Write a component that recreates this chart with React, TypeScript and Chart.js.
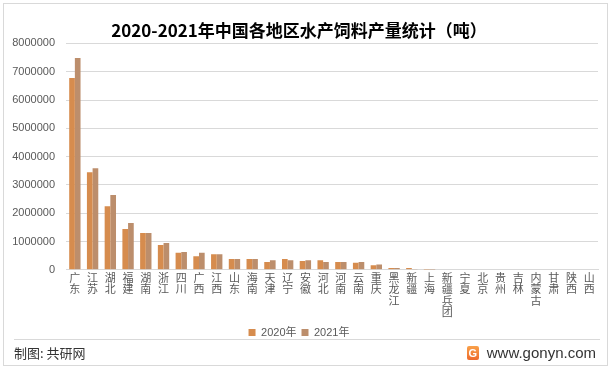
import React, { useEffect, useRef } from "react";
import { Chart, registerables } from "chart.js";

Chart.register(...registerables);

const categories = ["广东","江苏","湖北","福建","湖南","浙江","四川","广西","江西","山东","海南","天津","辽宁","安徽","河北","河南","云南","重庆","黑龙江","新疆","上海","新疆兵团","宁夏","北京","贵州","吉林","内蒙古","甘肃","陕西","山西"];
const values2020 = [6780000,3450000,2250000,1440000,1300000,880000,600000,480000,550000,380000,380000,280000,380000,310000,340000,280000,250000,160000,60000,60000,5000,0,0,0,0,0,0,0,0,0];
const values2021 = [7480000,3590000,2640000,1650000,1300000,950000,630000,600000,550000,380000,380000,340000,340000,340000,280000,280000,280000,190000,60000,30000,5000,0,0,0,0,0,0,0,0,0];
const seriesNames = ["2020年", "2021年"];
const yMax = 8000000;
const yStep = 1000000;
const title = "2020-2021年中国各地区水产饲料产量统计（吨）";

const FONT = '"Liberation Sans", "Noto Sans CJK SC", sans-serif';

export default function App() {
  const ref = useRef<HTMLCanvasElement>(null);
  useEffect(() => {
    document.body.style.margin = "0";
    const chart = new Chart(ref.current!, {
      type: "bar",
      data: {
        labels: categories.map((c) => c.split("")),
        datasets: [
          { label: seriesNames[0], data: values2020, backgroundColor: "#D68C4E", categoryPercentage: 0.64, barPercentage: 1 },
          { label: seriesNames[1], data: values2021, backgroundColor: "#BC8E6C", categoryPercentage: 0.64, barPercentage: 1 },
        ],
      },
      options: {
        animation: false,
        responsive: false,
        maintainAspectRatio: false,
        layout: { padding: { top: 20, right: 15, left: 0, bottom: 0 } },
        plugins: {
          title: {
            display: true,
            text: title,
            color: "#000",
            font: { family: '"Noto Sans CJK SC", sans-serif', size: 17, weight: "bold" },
            padding: { top: 0, bottom: 3 },
          },
          legend: {
            position: "bottom",
            labels: {
              boxWidth: 7,
              boxHeight: 7,
              padding: 5,
              color: "#595959",
              font: { family: FONT, size: 11 },
            },
          },
          tooltip: { enabled: false },
        },
        scales: {
          x: {
            grid: { display: false, drawTicks: false },
            border: { display: true, color: "#d9d9d9" },
            ticks: {
              color: "#595959",
              font: { family: FONT, size: 11, lineHeight: 1.05 },
              maxRotation: 0,
              minRotation: 0,
              autoSkip: false,
              padding: 3,
            },
          },
          y: {
            min: 0,
            max: yMax,
            grid: { color: "#d9d9d9", drawTicks: false },
            border: { display: false },
            ticks: {
              stepSize: yStep,
              color: "#595959",
              font: { family: FONT, size: 11 },
              padding: 11,
              callback: (v: any) => String(v),
            },
            afterFit: (s: any) => { s.width = 66; },
          },
        },
      },
    });
    return () => chart.destroy();
  }, []);

  return (
    <div style={{ position: "absolute", left: 0, top: 0, width: 613, height: 372, background: "#fff", overflow: "hidden" }}>
      <div style={{ position: "absolute", left: 3, top: 3, width: 603, height: 361, border: "1px solid #d9d9d9" }} />
      <canvas ref={ref} width={613} height={348} style={{ position: "absolute", left: 0, top: 0, width: 613, height: 348 }} />
      <div style={{ position: "absolute", left: 14, top: 339, width: 586, height: 1, background: "#d9d9d9" }} />
      <div style={{ position: "absolute", left: 14, top: 344, fontFamily: '"Noto Sans CJK SC", sans-serif', fontSize: 13, color: "#333", lineHeight: "18px" }}>制图: 共研网</div>
      <div style={{ position: "absolute", right: 17, top: 343, display: "flex", alignItems: "center", fontFamily: '"Liberation Sans", sans-serif', fontSize: 15, color: "#333", lineHeight: "20px" }}>
        <div style={{ width: 12, height: 14, marginRight: 8, borderRadius: 2, background: "linear-gradient(180deg,#f9a14a,#ee6a2c)", color: "#fff", fontSize: 11, fontWeight: "bold", textAlign: "center", lineHeight: "14px" }}>G</div>
        www.gonyn.com
      </div>
    </div>
  );
}
